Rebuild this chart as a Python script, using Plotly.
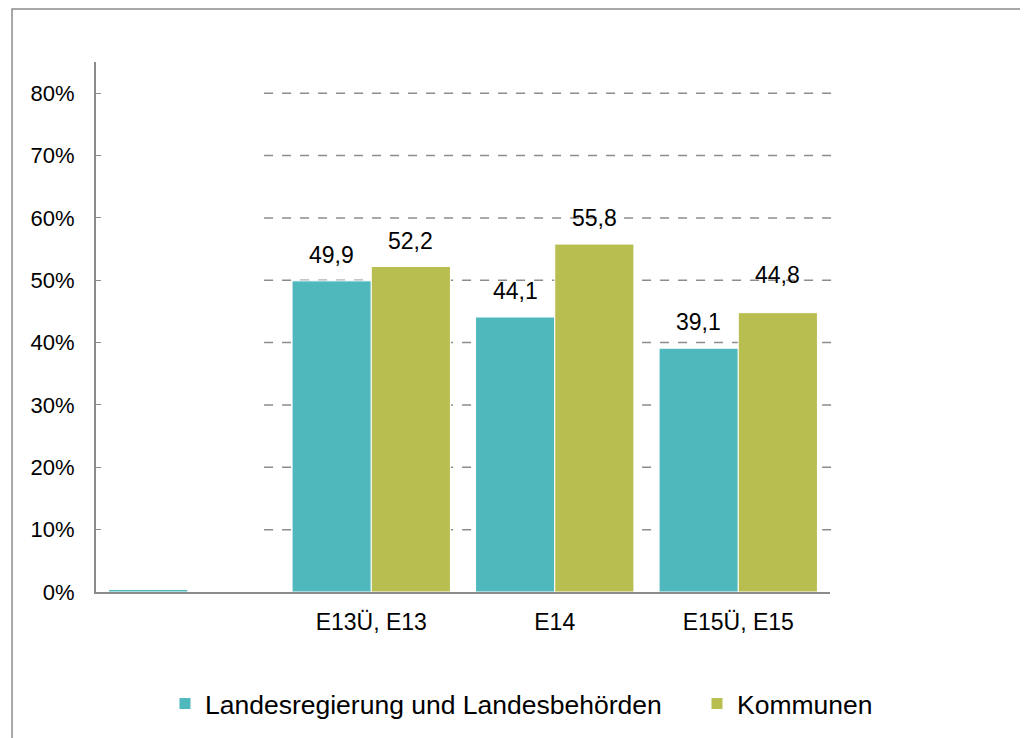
import plotly.graph_objects as go

# data
categories = [" ", "E13Ü, E13", "E14", "E15Ü, E15"]
landes = [0.4, 49.9, 44.1, 39.1]
kommunen = [None, 52.2, 55.8, 44.8]
series_names = ["Landesregierung und Landesbehörden", "Kommunen"]
grid_values = [10, 20, 30, 40, 50, 60, 70, 80]

font = "Liberation Sans, Arial, sans-serif"
colors = ["#4FB8BC", "#B8BE50"]
legend_ids = ["legend", "legend2"]


def fmt(v):
    return f"{v:.1f}".replace(".", ",")


fig = go.Figure()
for name, vals, col, lg in zip(series_names, [landes, kommunen], colors, legend_ids):
    fig.add_trace(go.Bar(
        x=categories, y=vals, name=name, legend=lg,
        marker=dict(color=col, line=dict(color="#ffffff", width=1)),
    ))

# value labels above the bars (first category has none)
extra_shift = {("E15Ü, E15", 1): 12}
for k, vals in enumerate([landes, kommunen]):
    for cat, v in zip(categories[1:], vals[1:]):
        fig.add_annotation(
            x=cat, y=v, text=fmt(v), showarrow=False,
            xshift=-39.5 if k == 0 else 39.5,
            yshift=26 + extra_shift.get((cat, k), 0),
            yanchor="middle", font=dict(size=23, color="#000000"),
        )

# dashed gridlines (start right of the empty first category)
for g in grid_values:
    fig.add_shape(type="line", xref="paper", yref="y",
                  x0=0.229, x1=1.009, y0=g, y1=g,
                  line=dict(color="#8c8c8c", width=1.5, dash="dash"),
                  layer="below")

# outer frame
fig.add_shape(type="rect", xref="paper", yref="paper",
              x0=-0.1144, x1=1.4, y0=-0.4, y1=1.1,
              line=dict(color="#8c8c8c", width=1.5))

legend_style = dict(orientation="h", xanchor="left", y=-0.211,
                    yanchor="middle", font=dict(size=26.5), itemwidth=30,
                    bgcolor="rgba(0,0,0,0)")

fig.update_layout(
    width=1028, height=738,
    margin=dict(l=88, r=206, t=54, b=154, autoexpand=False),
    paper_bgcolor="white", plot_bgcolor="white",
    font=dict(family=font, size=22, color="#000000"),
    barmode="group", bargap=0.137, bargroupgap=0,
    showlegend=True,
    legend=dict(x=0.094, **legend_style),
    legend2=dict(x=0.8188, **legend_style),
    xaxis=dict(showgrid=False, showline=True, linecolor="#8c8c8c",
               linewidth=2, ticks="", tickfont=dict(size=23),
               ticklabelstandoff=8),
    yaxis=dict(range=[0, 85], tickvals=[0, 10, 20, 30, 40, 50, 60, 70, 80],
               ticktext=[f"{v}%" for v in range(0, 90, 10)],
               showgrid=False, showline=True, linecolor="#8c8c8c",
               linewidth=2, ticks="inside", ticklen=5, tickcolor="#8c8c8c",
               tickfont=dict(size=22), zeroline=False,
               ticklabelstandoff=15),
)

fig.write_html("out.html")
